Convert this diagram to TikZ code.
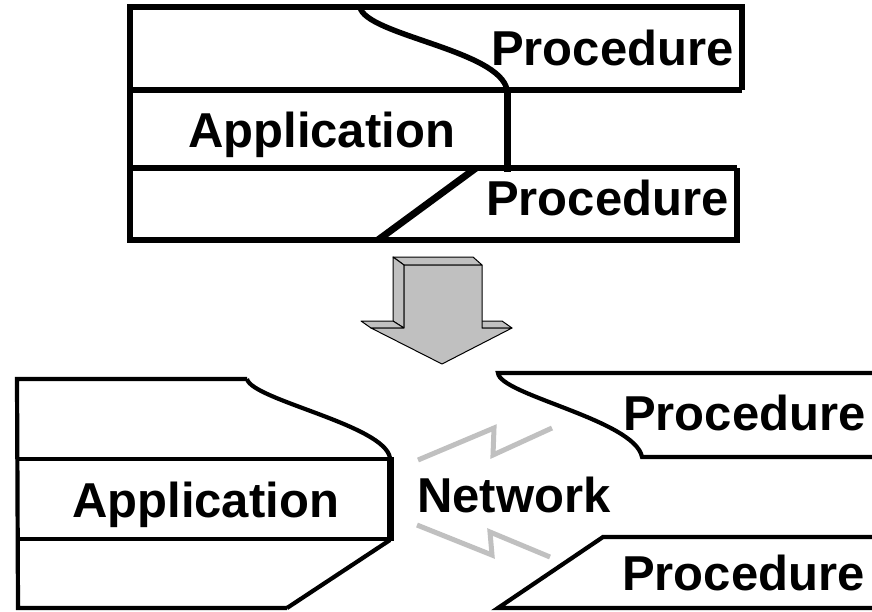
\documentclass[tikz,border=0pt]{standalone}
\usepackage{fontspec}
\setmainfont{Liberation Sans}
\usepackage{xcolor}
\definecolor{arrowgray}{HTML}{C0C0C0}

\begin{document}
\begin{tikzpicture}[x=1pt, y=-1pt,
    edge/.style={line width=5.5pt, line join=miter},
    thinedge/.style={line width=4.2pt, line join=miter},
    cut/.style={line width=7pt},
    bolt/.style={draw=arrowgray, line width=5pt},
    face/.style={draw=black, fill=arrowgray, line width=1pt, line join=round},
    word/.style={anchor=base west, inner sep=0pt, font=\bfseries\fontsize{49}{55}\selectfont}]
    \useasboundingbox (0,0) rectangle (872,611);
    \clip (0,0) rectangle (872,611);

    % Top: application with its procedures
    \draw[edge] (360,7) -- (130,7) -- (130,240) -- (378,240);
    \draw[edge] (130,90) -- (742,90);
    \draw[edge] (130,168) -- (737,168);
    \draw[edge] (360,7) -- (742,7) -- (742,90);
    \draw[edge] (378,240) -- (737,240) -- (737,168);
    \draw[edge] (360,7) .. controls (365,35) and (500,50) .. (507,90);
    \draw[cut] (507,88) -- (507,172);
    \draw[cut] (378,240) -- (476,168);
    \node[word] (appTop) at (188,147) {Application};
    \node[word] (procTopA) at (491,65) {Procedure};
    \node[word] (procTopB) at (486,215) {Procedure};

    % Block arrow
    \draw[face] (393,257) -- (473,257) -- (482,265) -- (404,265) -- cycle;
    \draw[face] (393,257) -- (404,265) -- (404,328) -- (393,321) -- cycle;
    \draw[face] (361,321) -- (393,321) -- (404,328) -- (371,328) -- cycle;
    \draw[face] (473,321) -- (502,321) -- (512,328) -- (482,328) -- cycle;
    \draw[face] (404,265) -- (482,265) -- (482,328) -- (512,328) -- (442,364)
        -- (371,328) -- (404,328) -- cycle;

    % Bottom: application split from procedures
    \draw[thinedge] (247,379) -- (17,379) -- (18,608) -- (287,608);
    \draw[thinedge] (17,459) -- (390,459);
    \draw[thinedge] (17,539) -- (390,539);
    \draw[thinedge] (247,379) .. controls (252,400) and (385,425) .. (390,458);
    \draw[cut] (390,457) -- (390,541);
    \draw[thinedge] (287,608) -- (390,540);
    \node[word] (appBot) at (72,517) {Application};

    \draw[thinedge] (880,373) -- (498,373) .. controls (500,395) and (635,420) .. (642,457) -- (880,457);
    \draw[thinedge] (880,537) -- (603,537) -- (498,608) -- (880,608);
    \node[word] (procBotA) at (623,430) {Procedure};
    \node[word] (procBotB) at (622,590) {Procedure};

    % Network links
    \node[word] (net) at (417,512) {Network};
    \draw[bolt] (418,460) -- (494,428) -- (493,455) -- (552,428);
    \draw[bolt] (417,525) -- (492,555) -- (490,532) -- (550,557);
\end{tikzpicture}
\end{document}
